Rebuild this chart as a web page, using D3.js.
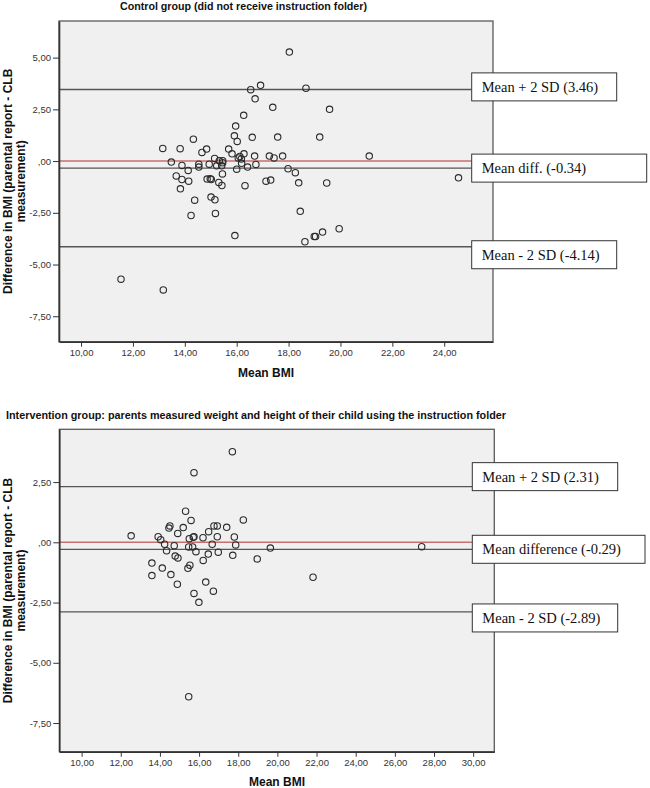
<!DOCTYPE html>
<html>
<head>
<meta charset="utf-8">
<script src="https://cdn.jsdelivr.net/npm/d3@7"></script>
<style>
  html, body { margin: 0; padding: 0; background: #fff; }
  svg { display: block; }
</style>
</head>
<body>
<svg id="chart" width="650" height="788"></svg>
<script>
// ---------- DATA ----------
const topTitle = "Control group (did not receive instruction folder)";
const botTitle = "Intervention group: parents measured weight and height of their child using the instruction folder";
const yLabelLines = ["Difference in BMI (parental report - CLB", "measurement)"];
const xLabel = "Mean BMI";

// Control group: mean BMI (x) and difference (y)
const topMeanBMI = [18.03,16.92,16.54,18.67,16.71,17.39,19.58,16.27,15.96,15.91,16.02,16.60,17.58,19.20,14.33,13.82,14.84,14.66,15.69,15.82,16.28,16.06,16.12,16.18,16.69,17.26,17.44,17.77,15.15,15.33,15.46,13.48,13.89,14.54,14.54,14.94,15.23,15.42,15.46,16.00,16.19,16.42,16.74,17.98,13.15,14.13,21.11,24.55,19.47,19.95,19.31,13.67,13.89,14.15,13.83,14.86,14.98,15.02,15.31,15.43,15.45,16.32,17.13,17.31,18.26,18.39,14.38,15.01,15.16,15.18,14.24,18.45,15.93,18.63,18.99,19.04,11.54,13.17];
const topDiff    = [5.27,3.66,3.45,3.52,3.01,2.60,2.50,2.21,1.69,1.22,0.95,1.15,1.16,1.16,1.06,0.60,0.58,0.42,0.58,0.35,0.35,0.15,0.22,0.10,0.24,0.24,0.15,0.24,0.13,0.02,0.02,-0.05,-0.21,-0.15,-0.29,-0.15,-0.23,-0.23,-0.08,-0.39,-0.11,-0.29,-0.16,-0.37,0.61,-0.45,0.24,-0.81,-1.06,-3.27,-3.43,-0.72,-0.89,-0.97,-1.34,-0.87,-0.85,-0.89,-1.03,-1.18,-0.62,-1.19,-0.97,-0.92,-0.56,-1.05,-1.89,-1.74,-1.87,-2.53,-2.63,-2.43,-3.60,-3.90,-3.64,-3.64,-5.71,-6.23];

// Intervention group
const botMeanBMI = [17.70,15.74,15.31,15.59,18.26,14.46,14.51,15.19,14.91,16.76,16.93,17.41,16.49,16.93,16.20,12.53,13.91,14.04,15.50,15.70,15.74,17.80,14.24,14.73,16.67,17.87,15.47,15.67,14.34,15.84,16.98,16.47,19.64,17.72,14.78,14.92,16.21,18.97,13.59,15.53,15.43,14.12,13.59,14.56,14.89,16.34,16.73,15.74,15.99,27.37,21.82,15.47];
const botDiff    = [3.76,2.89,1.29,0.91,0.93,0.59,0.68,0.61,0.37,0.68,0.68,0.62,0.44,0.23,0.19,0.27,0.23,0.11,0.15,0.21,0.23,0.22,-0.08,-0.14,-0.08,-0.11,-0.19,-0.19,-0.35,-0.39,-0.41,-0.49,-0.24,-0.54,-0.57,-0.65,-0.75,-0.69,-0.86,-0.95,-1.08,-1.07,-1.38,-1.34,-1.74,-1.65,-2.03,-2.12,-2.49,-0.18,-1.45,-6.41];

// Ticks
const topXTicks = [10,12,14,16,18,20,22,24];
const topXTickLabels = ["10,00","12,00","14,00","16,00","18,00","20,00","22,00","24,00"];
const topYTicks = [5,2.5,0,-2.5,-5,-7.5];
const topYTickLabels = ["5,00","2,50",",00","-2,50","-5,00","-7,50"];
const botXTicks = [10,12,14,16,18,20,22,24,26,28,30];
const botXTickLabels = ["10,00","12,00","14,00","16,00","18,00","20,00","22,00","24,00","26,00","28,00","30,00"];
const botYTicks = [2.5,0,-2.5,-5,-7.5];
const botYTickLabels = ["2,50",",00","-2,50","-5,00","-7,50"];

// Reference lines (mean +/- 2 SD)
const topRefValues = [3.46, -0.34, -4.14];
const topRefLabels = ["Mean + 2 SD (3.46)", "Mean diff. (-0.34)", "Mean - 2 SD (-4.14)"];
const botRefValues = [2.31, -0.29, -2.89];
const botRefLabels = ["Mean + 2 SD (2.31)", "Mean difference (-0.29)", "Mean - 2 SD (-2.89)"];
const zeroLine = 0;

// ---------- DRAWING ----------
const svg = d3.select("#chart");

function drawPanel(cfg) {
  const g = svg.append("g");
  const x = d3.scaleLinear().domain(cfg.xDomain).range([cfg.left, cfg.right]);
  const y = d3.scaleLinear().domain(cfg.yDomain).range([cfg.bottom, cfg.top]);

  // title
  g.append("text")
    .attr("x", cfg.titleX).attr("y", cfg.titleY)
    .attr("textLength", cfg.titleLen).attr("lengthAdjust", "spacingAndGlyphs")
    .style("font-family", "Arial, 'Liberation Sans', sans-serif")
    .style("font-weight", "bold").style("font-size", "10.5px").style("fill", "#111")
    .text(cfg.title);

  // plot background
  g.append("rect")
    .attr("x", cfg.left).attr("y", cfg.top)
    .attr("width", cfg.right - cfg.left).attr("height", cfg.bottom - cfg.top)
    .attr("fill", "#f0f0f0").attr("stroke", "#5a5a5a").attr("stroke-width", 1.3);

  // zero line (red)
  g.append("line")
    .attr("x1", cfg.left).attr("x2", cfg.right)
    .attr("y1", y(zeroLine)).attr("y2", y(zeroLine))
    .attr("stroke", "#c86f6f").attr("stroke-width", 1.4);

  // reference lines
  g.selectAll("line.ref").data(cfg.refValues).join("line")
    .attr("class", "ref")
    .attr("x1", cfg.left).attr("x2", cfg.boxLeft)
    .attr("y1", d => y(d)).attr("y2", d => y(d))
    .attr("stroke", "#555").attr("stroke-width", 1.3);

  // points
  g.selectAll("circle").data(cfg.xs.map((v, i) => [v, cfg.ys[i]])).join("circle")
    .attr("cx", d => x(d[0])).attr("cy", d => y(d[1]))
    .attr("r", 3.2)
    .attr("fill", "none").attr("stroke", "#2b2b2b").attr("stroke-width", 1.1);

  // axes
  const axisFont = "Arial, 'Liberation Sans', sans-serif";
  const xAxis = d3.axisBottom(x).tickValues(cfg.xTicks)
    .tickFormat((d, i) => cfg.xTickLabels[i]).tickSize(5).tickSizeOuter(0).tickPadding(3);
  const gx = g.append("g").attr("transform", `translate(0,${cfg.bottom})`).call(xAxis);
  const yAxis = d3.axisLeft(y).tickValues(cfg.yTicks)
    .tickFormat((d, i) => cfg.yTickLabels[i]).tickSize(6).tickSizeOuter(0).tickPadding(2);
  const gy = g.append("g").attr("transform", `translate(${cfg.left},0)`).call(yAxis);
  [gx, gy].forEach(a => {
    a.select(".domain").attr("stroke", "#333").attr("stroke-width", 1.6);
    a.selectAll(".tick line").attr("stroke", "#333").attr("stroke-width", 1);
    a.selectAll(".tick text").style("font-family", axisFont).style("font-size", "9.5px").attr("fill", "#333");
  });

  // annotation boxes
  const boxes = g.selectAll("g.box").data(cfg.refValues).join("g").attr("class", "box");
  boxes.append("rect")
    .attr("x", cfg.boxLeft)
    .attr("y", (d, i) => y(d) + cfg.boxOffsets[i] - 14)
    .attr("width", (d, i) => cfg.boxWidths[i]).attr("height", 28)
    .attr("fill", "#fff").attr("stroke", "#333").attr("stroke-width", 1);
  boxes.append("text")
    .attr("x", cfg.boxLeft + 10)
    .attr("y", (d, i) => y(d) + cfg.boxOffsets[i] + 5)
    .style("font-family", "'Liberation Serif', 'Times New Roman', serif")
    .style("font-size", "14.5px").attr("fill", "#111")
    .text((d, i) => cfg.refLabels[i]);

  // axis titles
  const cy = (cfg.top + cfg.bottom) / 2;
  yLabelLines.forEach((t, i) => {
    g.append("text")
      .attr("transform", `translate(${[8, 20.5][i]},${cy}) rotate(-90)`)
      .attr("text-anchor", "middle").attr("dy", "0.35em")
      .style("font-family", axisFont).style("font-weight", "bold")
      .style("font-size", "12px").attr("fill", "#111")
      .text(t);
  });
  g.append("text")
    .attr("x", cfg.xLabelX).attr("y", cfg.xLabelY)
    .attr("text-anchor", "middle")
    .style("font-family", axisFont).style("font-weight", "bold")
    .style("font-size", "12px").attr("fill", "#111")
    .text(xLabel);
}

drawPanel({
  title: topTitle, titleX: 120, titleY: 10, titleLen: 247,
  left: 59, right: 493, top: 21, bottom: 341.7,
  xDomain: [9.15, 25.88], yDomain: [-8.73, 6.77],
  xs: topMeanBMI, ys: topDiff,
  xTicks: topXTicks, xTickLabels: topXTickLabels,
  yTicks: topYTicks, yTickLabels: topYTickLabels,
  refValues: topRefValues, refLabels: topRefLabels,
  boxLeft: 471.7, boxWidths: [145, 175, 145], boxOffsets: [-2.6, 0, 8],
  xLabelX: 266, xLabelY: 377
});

drawPanel({
  title: botTitle, titleX: 6, titleY: 418.5, titleLen: 500,
  left: 59.3, right: 494.3, top: 429.3, bottom: 751.7,
  xDomain: [8.86, 31.08], yDomain: [-8.69, 4.69],
  xs: botMeanBMI, ys: botDiff,
  xTicks: botXTicks, xTickLabels: botXTickLabels,
  yTicks: botYTicks, yTickLabels: botYTickLabels,
  refValues: botRefValues, refLabels: botRefLabels,
  boxLeft: 472.3, boxWidths: [145.4, 172.7, 145.4], boxOffsets: [-10, 0, 6],
  xLabelX: 277, xLabelY: 786
});
</script>
</body>
</html>
